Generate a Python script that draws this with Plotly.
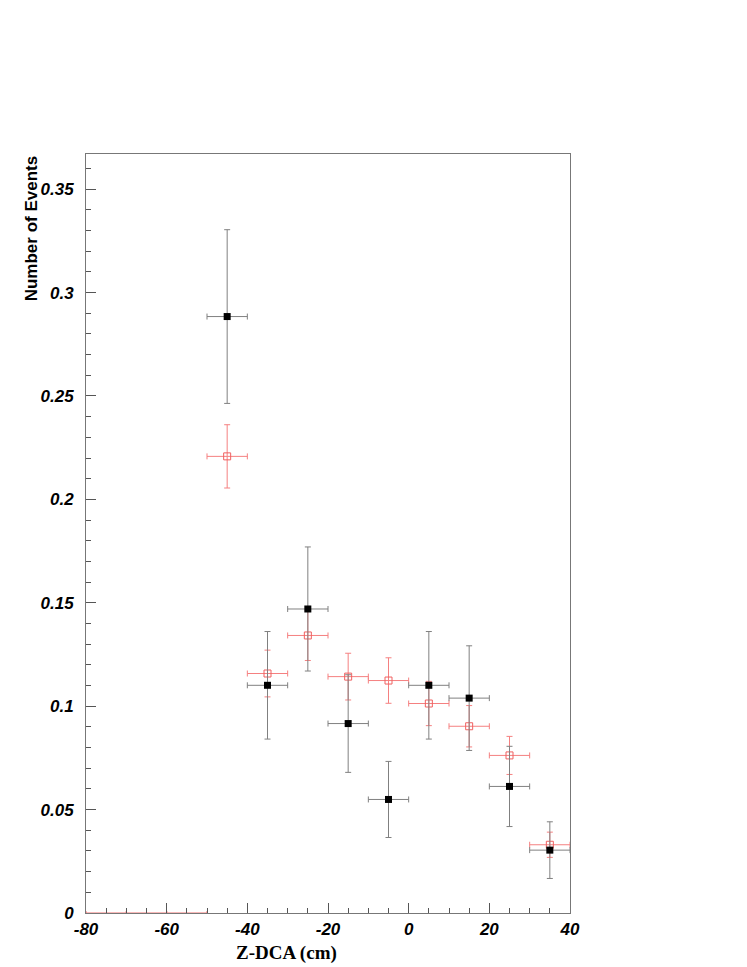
import plotly.graph_objects as go

# bin centres (cm), bin half-width 5 cm
z_bins = [-45, -35, -25, -15, -5, 5, 15, 25, 35]
z_empty = [-75, -65, -55]

# black, filled squares
black_y = [0.2884, 0.1101, 0.1470, 0.0916, 0.0549, 0.1101, 0.1039, 0.0612, 0.0304]
black_err = [0.0420, 0.0260, 0.0300, 0.0236, 0.0184, 0.0260, 0.0253, 0.0194, 0.0137]

# red, open squares
red_y = [0.2208, 0.1158, 0.1342, 0.1143, 0.1124, 0.1013, 0.0903, 0.0762, 0.0330]
red_err = [0.0153, 0.0113, 0.0121, 0.0113, 0.0110, 0.0107, 0.0100, 0.0092, 0.0061]
red_empty = [0.0, 0.0, 0.0]

# x tick labels (plain hyphen minus, as in the original)
x_tickvals = [-80, -60, -40, -20, 0, 20, 40]
x_ticktext = ["-80", "-60", "-40", "-20", "0", "20", "40"]

half_width = 5

fig = go.Figure()

#empty bins only show their horizontal bars on the axis
fig.add_trace(go.Scatter(
    x=z_empty, y=red_empty, mode="markers",
    marker=dict(size=1, color="rgba(0,0,0,0)"),
    error_x=dict(type="constant", value=half_width, color="#f07070", thickness=1, width=2),
    showlegend=False, cliponaxis=False))

fig.add_trace(go.Scatter(
    x=z_bins, y=red_y, mode="markers",
    marker=dict(symbol="square-open", size=7, color="#f06060", line=dict(width=1)),
    error_x=dict(type="constant", value=half_width, color="#f58080", thickness=1, width=3),
    error_y=dict(type="data", array=red_err, color="#f58080", thickness=1, width=3),
    showlegend=False))

fig.add_trace(go.Scatter(
    x=z_bins, y=black_y, mode="markers",
    marker=dict(symbol="square", size=7, color="black"),
    error_x=dict(type="constant", value=half_width, color="#808080", thickness=1, width=3),
    error_y=dict(type="data", array=black_err, color="#808080", thickness=1, width=3),
    showlegend=False))

tick_font = dict(family="Liberation Sans, Arial, sans-serif", size=17, color="black",
                 weight="bold", style="italic")

# page body adds 8px offset, margins compensate for it
fig.update_layout(
    width=747, height=967,
    margin=dict(l=78, r=185, t=146, b=62),
    plot_bgcolor="white", paper_bgcolor="white",
    xaxis=dict(range=[-80, 40], tickvals=x_tickvals, ticktext=x_ticktext,
               ticks="inside", ticklen=10,
               tickcolor="#555", showgrid=False, zeroline=False,
               showline=True, linecolor="#777", linewidth=1, mirror=True,
               tickfont=tick_font, ticklabelstandoff=1,
               minor=dict(ticks="inside", dtick=5, tick0=-80, ticklen=5, tickcolor="#555")),
    yaxis=dict(range=[0, 0.367], dtick=0.05, tick0=0, ticks="inside", ticklen=10,
               tickcolor="#555", showgrid=False, zeroline=False,
               showline=True, linecolor="#777", linewidth=1, mirror=True,
               tickfont=tick_font, tickformat="~g", ticklabelstandoff=8,
               minor=dict(ticks="inside", dtick=0.01, ticklen=5, tickcolor="#555")),
    annotations=[
        dict(text="Z-DCA (cm)", xref="paper", yref="paper", x=0.414, y=-0.053,
             xanchor="center", yanchor="middle", showarrow=False,
             font=dict(family="Liberation Serif, Times New Roman, serif", size=19,
                       color="black", weight="bold")),
        dict(text="Number of Events", xref="paper", yref="paper", x=-0.112, y=1.0,
             xanchor="center", yanchor="top", textangle=-90, showarrow=False,
             font=dict(family="Liberation Sans, Arial, sans-serif", size=17,
                       color="black", weight="bold")),
    ],
)

fig.write_html("out.html")
